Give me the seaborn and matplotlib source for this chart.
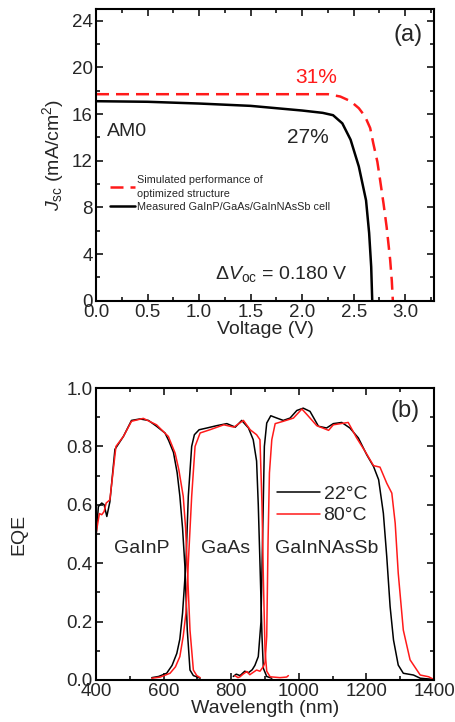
import numpy as np
import matplotlib
matplotlib.use('Agg')
import matplotlib.pyplot as plt
import seaborn as sns

# (a) J-V curves
v_sim = [0.0, 0.5, 1.0, 1.5, 2.0, 2.25, 2.37, 2.47, 2.55, 2.61, 2.66, 2.69, 2.73, 2.757, 2.79, 2.82, 2.854, 2.87, 2.88]
j_sim = [17.7, 17.7, 17.7, 17.7, 17.7, 17.7, 17.5, 17.1, 16.5, 15.8, 14.8, 13.5, 11.9, 10.3, 8.3, 6.3, 3.5, 1.7, 0.0]
v_meas = [0.0, 0.5, 1.0, 1.5, 2.0, 2.2, 2.3, 2.39, 2.47, 2.55, 2.62, 2.65, 2.67, 2.68]
j_meas = [17.1, 17.05, 16.9, 16.7, 16.3, 16.1, 15.9, 15.2, 13.8, 11.5, 8.6, 5.8, 2.9, 0.0]

# (b) EQE curves
wl_inp_22 = [400, 407, 417, 424, 432, 441, 456, 481, 505, 530, 555, 579, 604, 615, 629, 640, 648, 656, 663, 670, 678, 688, 698, 708]
eqe_inp_22 = [0.49, 0.594, 0.606, 0.60, 0.56, 0.61, 0.79, 0.834, 0.889, 0.894, 0.889, 0.869, 0.846, 0.82, 0.78, 0.71, 0.63, 0.52, 0.389, 0.171, 0.034, 0.015, 0.011, 0.006]
wl_inp_80 = [400, 410, 417, 424, 430, 441, 459, 481, 505, 540, 579, 614, 634, 645, 658, 665, 670, 678, 688, 698, 708]
eqe_inp_80 = [0.50, 0.57, 0.566, 0.577, 0.606, 0.617, 0.80, 0.834, 0.886, 0.896, 0.874, 0.834, 0.777, 0.72, 0.629, 0.52, 0.389, 0.171, 0.034, 0.015, 0.008]

wl_gaas_22 = [565, 585, 609, 625, 639, 648, 656, 666, 673, 683, 691, 705, 728, 757, 787, 812, 831, 851, 865, 875, 880, 885, 891, 895, 905, 920]
eqe_gaas_22 = [0.008, 0.012, 0.023, 0.05, 0.091, 0.14, 0.229, 0.4, 0.629, 0.8, 0.84, 0.857, 0.863, 0.871, 0.878, 0.866, 0.889, 0.863, 0.823, 0.75, 0.6, 0.4, 0.15, 0.04, 0.012, 0.006]
wl_gaas_80 = [565, 590, 619, 635, 648, 658, 666, 673, 683, 693, 708, 737, 778, 808, 836, 856, 875, 885, 891, 895, 900, 905, 915, 944, 964, 969]
eqe_gaas_80 = [0.006, 0.01, 0.023, 0.045, 0.08, 0.15, 0.229, 0.4, 0.629, 0.8, 0.846, 0.857, 0.874, 0.866, 0.889, 0.857, 0.84, 0.823, 0.6, 0.35, 0.1, 0.03, 0.011, 0.008, 0.01, 0.015]

wl_sb_22 = [806, 815, 826, 840, 851, 862, 870, 880, 888, 893, 898, 905, 917, 935, 954, 974, 994, 1013, 1033, 1058, 1082, 1102, 1127, 1151, 1176, 1201, 1221, 1236, 1250, 1260, 1270, 1280, 1294, 1309, 1339, 1359, 1399]
eqe_sb_22 = [0.012, 0.02, 0.015, 0.03, 0.025, 0.035, 0.05, 0.08, 0.2, 0.5, 0.8, 0.88, 0.905, 0.897, 0.889, 0.897, 0.923, 0.931, 0.92, 0.869, 0.863, 0.878, 0.882, 0.863, 0.829, 0.771, 0.731, 0.686, 0.571, 0.423, 0.251, 0.137, 0.051, 0.023, 0.017, 0.006, 0.002]
wl_sb_80 = [811, 820, 826, 835, 846, 855, 861, 875, 885, 895, 900, 905, 909, 913, 920, 930, 954, 984, 1009, 1024, 1053, 1088, 1102, 1146, 1171, 1196, 1221, 1240, 1260, 1275, 1285, 1294, 1309, 1329, 1359, 1384, 1399]
eqe_sb_80 = [0.015, 0.008, 0.011, 0.02, 0.029, 0.018, 0.023, 0.034, 0.03, 0.046, 0.06, 0.15, 0.48, 0.709, 0.823, 0.878, 0.886, 0.897, 0.928, 0.909, 0.871, 0.855, 0.874, 0.882, 0.829, 0.783, 0.734, 0.729, 0.674, 0.64, 0.537, 0.366, 0.171, 0.069, 0.017, 0.011, 0.002]

sns.set_style('ticks')
plt.rcParams['font.family'] = ['Liberation Sans', 'DejaVu Sans']
plt.rcParams['mathtext.fontset'] = 'custom'
plt.rcParams['mathtext.rm'] = 'Liberation Sans'
plt.rcParams['mathtext.it'] = 'Liberation Sans:italic'
plt.rcParams['axes.linewidth'] = 1.5

fig = plt.figure(figsize=(4.55, 7.22), dpi=100)
ax1 = fig.add_axes([0.211, 0.5835, 0.743, 0.404])
ax2 = fig.add_axes([0.211, 0.0582, 0.743, 0.4044])


def style_axes(ax):
    ax.tick_params(which='both', direction='in', top=True, right=True, width=1.3, labelsize=13.5, pad=2.5)
    ax.tick_params(which='major', length=5)
    ax.tick_params(which='minor', length=3)
    for s in ax.spines.values():
        s.set_color('black')


# ---- panel (a)
sns.lineplot(x=v_sim, y=j_sim, ax=ax1, color='#ff1a1a', linewidth=1.8, sort=False,
             label='Simulated performance of\noptimized structure')
ax1.lines[-1].set_dashes([5.2, 2.8])
sns.lineplot(x=v_meas, y=j_meas, ax=ax1, color='black', linewidth=1.8, sort=False,
             label='Measured GaInP/GaAs/GaInNAsSb cell')
ax1.set_xlim(0, 3.28)
ax1.set_ylim(0, 25)
ax1.set_xticks(np.arange(0, 3.01, 0.5))
ax1.set_xticks(np.arange(0.25, 3.28, 0.5), minor=True)
ax1.set_xticklabels(['%.1f' % t for t in np.arange(0, 3.01, 0.5)])
ax1.set_yticks(np.arange(0, 25, 4))
ax1.set_yticks(np.arange(2, 25, 4), minor=True)
style_axes(ax1)
ax1.set_xlabel('Voltage (V)', fontsize=14, labelpad=0)
ax1.set_ylabel(r'$J_{\rm sc}$ (mA/cm$^2$)', fontsize=14, labelpad=4)
leg = ax1.legend(loc='upper left', bbox_to_anchor=(0.042, 0.431), frameon=False, fontsize=7.8,
                 handlelength=2.3, handletextpad=0.2, labelspacing=0.25, borderpad=0,
                 borderaxespad=0)
for t in leg.get_texts():
    t.set_linespacing(1.5)
ax1.text(3.03, 22.8, '(a)', fontsize=17, ha='center', va='center')
ax1.text(2.14, 19.1, '31%', fontsize=15, color='#ff1a1a', ha='center', va='center')
ax1.text(2.06, 14.0, '27%', fontsize=15, ha='center', va='center')
ax1.text(0.30, 14.5, 'AM0', fontsize=14, ha='center', va='center')
ax1.text(1.8, 2.3, r'$\Delta V_{\rm oc}$ = 0.180 V', fontsize=14, ha='center', va='center')

# ---- panel (b)
for wl, eqe in [(wl_inp_22, eqe_inp_22), (wl_gaas_22, eqe_gaas_22), (wl_sb_22, eqe_sb_22)]:
    sns.lineplot(x=wl, y=eqe, ax=ax2, color='black', linewidth=1.1, sort=False)
for wl, eqe in [(wl_inp_80, eqe_inp_80), (wl_gaas_80, eqe_gaas_80), (wl_sb_80, eqe_sb_80)]:
    sns.lineplot(x=wl, y=eqe, ax=ax2, color='#ff1a1a', linewidth=1.1, sort=False)
ax2.plot([], [], color='black', linewidth=1.1, label='22°C')
ax2.plot([], [], color='#ff1a1a', linewidth=1.1, label='80°C')
ax2.set_xlim(400, 1400)
ax2.set_ylim(0, 1.0)
ax2.set_xticks(np.arange(400, 1401, 200))
ax2.set_xticks(np.arange(500, 1400, 200), minor=True)
ax2.set_yticks(np.arange(0, 1.01, 0.2))
ax2.set_yticks(np.arange(0.1, 1.0, 0.2), minor=True)
ax2.set_yticklabels(['%.1f' % t for t in np.arange(0, 1.01, 0.2)])
style_axes(ax2)
ax2.set_xlabel('Wavelength (nm)', fontsize=14, labelpad=0)
ax2.set_ylabel('EQE', fontsize=14, labelpad=28)
ax2.legend(loc='upper left', bbox_to_anchor=(0.535, 0.667), frameon=False, fontsize=14,
           handlelength=2.2, handletextpad=0.2, labelspacing=0.2, borderpad=0,
           borderaxespad=0)
ax2.text(1314, 0.92, '(b)', fontsize=17, ha='center', va='center')
ax2.text(535, 0.451, 'GaInP', fontsize=14, ha='center', va='center')
ax2.text(782, 0.451, 'GaAs', fontsize=14, ha='center', va='center')
ax2.text(1082, 0.451, 'GaInNAsSb', fontsize=14, ha='center', va='center')

fig.savefig('out.png', dpi=100)
